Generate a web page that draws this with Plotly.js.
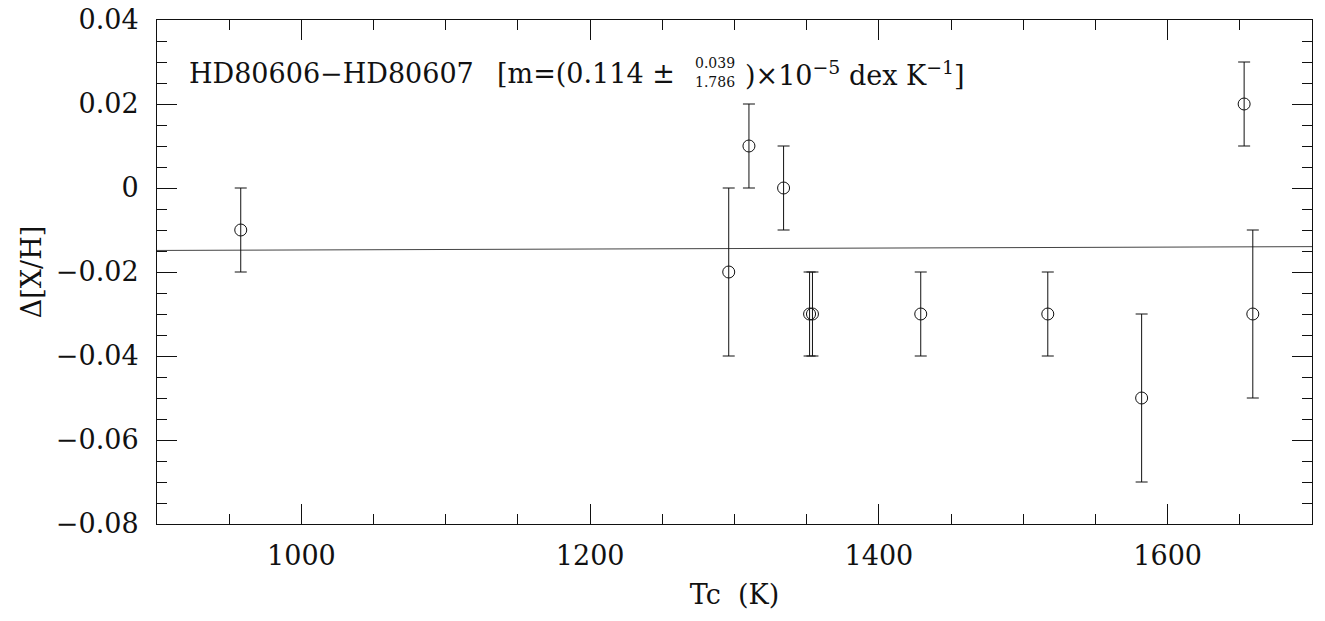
<!DOCTYPE html>
<html>
<head>
<meta charset="utf-8">
<script src="https://cdn.plot.ly/plotly-3.0.1.min.js"></script>
<style>
  html, body { margin: 0; padding: 0; background: #fff; }
  #chart { width: 1325px; height: 621px; }
</style>
</head>
<body>
<div id="chart"></div>
<script>
// Condensation temperature Tc (K) of each element
const tc = [958, 1296, 1310, 1334, 1352, 1354, 1429, 1517, 1582, 1653, 1659];
// Abundance difference Δ[X/H] (dex)
const dxh = [-0.01, -0.02, 0.01, 0.0, -0.03, -0.03, -0.03, -0.03, -0.05, 0.02, -0.03];
// Error of Δ[X/H]
const dxhErr = [0.01, 0.02, 0.01, 0.01, 0.01, 0.01, 0.01, 0.01, 0.02, 0.01, 0.02];
// Fitted line ends
const fitTc = [900, 1700];
const fitDxh = [-0.01487, -0.01396];
// Axis ticks
const xTicks = [1000, 1200, 1400, 1600];
const yTicks = [-0.08, -0.06, -0.04, -0.02, 0, 0.02, 0.04];
const yTickText = ['\u22120.08', '\u22120.06', '\u22120.04', '\u22120.02', '0', '0.02', '0.04'];

const FONT = 'DejaVu Serif, Liberation Serif, serif';
const INK = '#111';

const traces = [
  {
    x: fitTc, y: fitDxh, mode: 'lines', type: 'scatter',
    line: {color: '#444', width: 1}, hoverinfo: 'skip', showlegend: false
  },
  {
    x: tc, y: dxh, mode: 'markers', type: 'scatter',
    marker: {symbol: 'circle-open', size: 12, color: INK, line: {color: INK, width: 1}},
    error_y: {type: 'data', array: dxhErr, visible: true, color: INK, thickness: 1, width: 6},
    showlegend: false
  }
];

// pixel helpers for the plot frame
const L = 157, R = 1312, T = 20, B = 524;
const px = v => (v - L) / (R - L);
const py = v => (B - v) / (B - T);

const annFont = {family: FONT, size: 27, color: INK};
const smallFont = {family: FONT, size: 14, color: INK};

const layout = {
  width: 1325, height: 621,
  margin: {l: L, r: 1325 - R, t: T, b: 621 - B},
  paper_bgcolor: '#fff', plot_bgcolor: '#fff',
  font: {family: FONT, size: 27, color: INK},
  xaxis: {
    range: [900, 1700], tickvals: xTicks, ticktext: xTicks.map(String),
    ticks: 'inside', ticklen: 20, tickwidth: 1, tickcolor: INK,
    minor: {dtick: 50, ticks: 'inside', ticklen: 10, tickwidth: 1, tickcolor: INK},
    showline: true, linecolor: INK, linewidth: 1, mirror: 'ticks',
    showgrid: false, zeroline: false,
    tickfont: {family: FONT, size: 27, color: INK},
    ticklabelstandoff: 8,
    title: {text: 'Tc  (K)', font: {family: FONT, size: 27, color: INK}, standoff: 14}
  },
  yaxis: {
    range: [-0.08, 0.04], tickvals: yTicks, ticktext: yTickText,
    ticks: 'inside', ticklen: 20, tickwidth: 1, tickcolor: INK,
    minor: {dtick: 0.005, ticks: 'inside', ticklen: 10, tickwidth: 1, tickcolor: INK},
    showline: true, linecolor: INK, linewidth: 1, mirror: 'ticks',
    showgrid: false, zeroline: false,
    tickfont: {family: FONT, size: 27, color: INK},
    ticklabelstandoff: 12,
    title: {text: '\u0394[X/H]', font: {family: FONT, size: 27, color: INK}, standoff: 6}
  },
  annotations: [
    {xref: 'paper', yref: 'paper', x: px(187), y: py(74), xanchor: 'left', yanchor: 'middle',
     text: 'HD80606\u2212HD80607', showarrow: false, font: annFont},
    {xref: 'paper', yref: 'paper', x: px(495), y: py(74), xanchor: 'left', yanchor: 'middle',
     text: '[m=(0.114 \u00b1', showarrow: false, font: annFont},
    {xref: 'paper', yref: 'paper', x: px(694), y: py(63), xanchor: 'left', yanchor: 'middle',
     text: '0.039', showarrow: false, font: smallFont, borderpad: 0},
    {xref: 'paper', yref: 'paper', x: px(694), y: py(82), xanchor: 'left', yanchor: 'middle',
     text: '1.786', showarrow: false, font: smallFont, borderpad: 0},
    {xref: 'paper', yref: 'paper', x: px(743), y: py(74), xanchor: 'left', yanchor: 'middle',
     text: ')\u00d710<sup>\u22125</sup> dex K<sup>\u22121</sup>]', showarrow: false, font: annFont}
  ]
};

Plotly.newPlot('chart', traces, layout, {displayModeBar: false, staticPlot: true});
</script>
</body>
</html>
